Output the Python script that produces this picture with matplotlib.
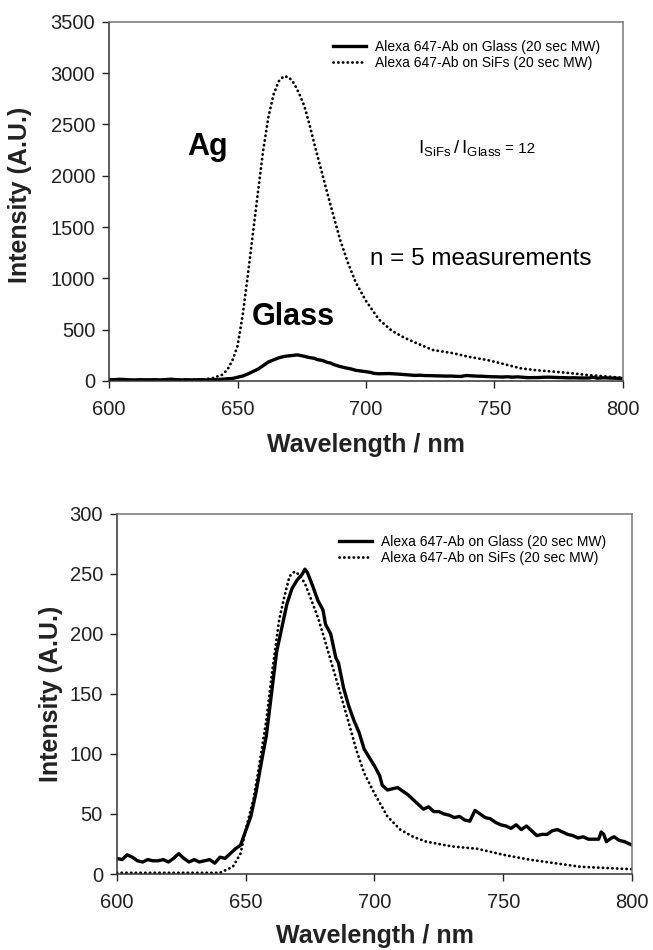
import matplotlib
matplotlib.use("Agg")
import matplotlib.pyplot as plt

plt.rcParams['font.family'] = ['Liberation Sans', 'DejaVu Sans']
plt.rcParams['mathtext.fontset'] = 'custom'
plt.rcParams['mathtext.rm'] = 'Liberation Sans'

LABEL_GLASS = "Alexa 647-Ab on Glass (20 sec MW)"
LABEL_SIFS = "Alexa 647-Ab on SiFs (20 sec MW)"

# glass spectrum (same in both panels)
glass_nm = [600, 602, 604, 606, 608, 610, 612, 614, 616, 618, 620, 622, 624, 626, 628,
            630, 632, 634, 636, 638, 640, 642, 644, 646, 648, 650, 652, 654, 656, 658,
            660, 662, 664, 666, 668, 670, 672, 673, 674, 676, 678, 680, 681, 683, 685,
            686, 688, 690, 692, 694, 696, 698, 700, 702, 703, 705, 707, 709, 711, 713,
            715, 717, 719, 721, 723, 725, 727, 729, 731, 733, 735, 737, 739, 741, 743,
            745, 747, 749, 751, 753, 755, 757, 759, 761, 763, 765, 767, 769, 771, 773,
            775, 777, 779, 781, 783, 785, 787, 788, 789, 790, 792, 793, 795, 797, 800]
glass_int = [13, 12, 16, 14, 11, 10, 12, 11, 11, 12, 10, 13, 17, 13, 10,
             12, 10, 11, 12, 9, 14, 13, 17, 21, 24, 36, 48, 68, 92, 115,
             150, 185, 205, 225, 238, 245, 250, 254, 251, 240, 228, 220, 208, 200, 180,
             176, 155, 140, 128, 118, 104, 97, 90, 82, 74, 70, 71, 72, 69, 66,
             62, 58, 54, 56, 52, 52, 50, 49, 47, 48, 45, 44, 53, 50, 47,
             46, 43, 41, 40, 38, 41, 37, 40, 36, 32, 33, 33, 36, 37, 35,
             33, 32, 30, 31, 29, 29, 29, 35, 33, 27, 30, 31, 28, 27, 24]

# SiFs spectrum, top panel (absolute)
sifs_nm = [600, 610, 620, 630, 636, 640, 644, 646, 648, 650, 652, 654, 656, 658, 660,
           662, 664, 666, 668, 670, 672, 674, 676, 678, 680, 682, 684, 686, 688, 690,
           693, 696, 700, 705, 710, 715, 720, 726, 734, 740, 747, 752, 760, 766, 773,
           780, 786, 792, 800]
sifs_int = [8, 8, 8, 10, 14, 25, 60, 107, 200, 340, 640, 1030, 1440, 1850, 2250,
            2570, 2790, 2920, 2970, 2960, 2900, 2800, 2680, 2500, 2300, 2110, 1920, 1732, 1550, 1370,
            1150, 960, 780, 600, 490, 420, 365, 302, 270, 235, 205, 175, 124, 105, 91,
            75, 58, 47, 30]

# SiFs spectrum, bottom panel (scaled to glass peak)
norm_nm = [600, 610, 620, 630, 635, 640, 645, 648, 650, 653, 655, 658, 660, 663, 665,
           667, 669, 671, 673, 675, 678, 680, 683, 686, 690, 693, 696, 700, 705, 710,
           715, 720, 730, 740, 750, 760, 770, 780, 790, 800]
norm_int = [1, 1, 1, 1, 1, 1, 6, 17, 37, 62, 87, 128, 164, 212, 231,
            248, 252, 249, 242, 231, 214, 200, 178, 156, 126, 103, 84, 67, 48, 37,
            31, 27, 23, 21, 16, 12, 9, 6, 5, 4]

DOT = (0, (0.1, 1.6))


def style_axes(ax, ymax, ystep):
    ax.set_xlim(600, 800)
    ax.set_ylim(0, ymax)
    ax.set_xticks(range(600, 801, 50))
    ax.set_yticks(range(0, ymax + 1, ystep))
    ax.tick_params(direction='out', length=5, width=1, labelsize=14.5, colors='#222')
    ax.tick_params(axis='x', pad=9)
    ax.tick_params(axis='y', pad=5)
    for s in ['left', 'bottom']:
        ax.spines[s].set_color('#333')
        ax.spines[s].set_linewidth(1.1)
    for s in ['top', 'right']:
        ax.spines[s].set_color('#777')
        ax.spines[s].set_linewidth(1.1)
    ax.set_xlabel("Wavelength / nm", fontsize=18, fontweight='bold', color='#222')
    ax.set_ylabel("Intensity (A.U.)", fontsize=18, fontweight='bold', color='#222')


def dotted(ax, x, y, label):
    ax.plot(x, y, color='black', lw=2.0, linestyle=DOT, dash_capstyle='round',
            label=label)


fig = plt.figure(figsize=(6.53, 9.5), dpi=100)

# top panel
ax1 = fig.add_axes([0.167, 0.599, 0.787, 0.378])
ax1.plot(glass_nm, glass_int, color='black', lw=2.4, label=LABEL_GLASS)
dotted(ax1, sifs_nm, sifs_int, LABEL_SIFS)
style_axes(ax1, 3500, 500)
ax1.xaxis.set_label_coords(0.5, -0.145)
ax1.yaxis.set_label_coords(-0.15, 0.518)
ax1.legend(loc='center left', bbox_to_anchor=(0.436, 0.907), frameon=False,
           fontsize=10, labelspacing=0.15, handlelength=2.4, handletextpad=0.6,
           borderpad=0, borderaxespad=0)
ax1.text(630.5, 2203, "Ag", fontsize=22, fontweight='bold', ha='left', va='baseline')
ax1.text(655.6, 546, "Glass", fontsize=22, fontweight='bold', ha='left', va='baseline')
ax1.text(701.6, 1131, "n = 5 measurements", fontsize=17.5, ha='left', va='baseline')
ax1.text(720.2, 2223, r"$\mathregular{I_{SiFs}\,/\,I_{Glass}}$", fontsize=13.5,
         ha='left', va='baseline')
ax1.text(754.1, 2223, "= 12", fontsize=11, ha='left', va='baseline')

# bottom panel
ax2 = fig.add_axes([0.179, 0.080, 0.789, 0.379])
ax2.plot(glass_nm, glass_int, color='black', lw=2.4, label=LABEL_GLASS)
dotted(ax2, norm_nm, norm_int, LABEL_SIFS)
style_axes(ax2, 300, 50)
ax2.xaxis.set_label_coords(0.5, -0.14)
ax2.yaxis.set_label_coords(-0.105, 0.501)
ax2.legend(loc='center left', bbox_to_anchor=(0.431, 0.901), frameon=False,
           fontsize=10, labelspacing=0.15, handlelength=2.4, handletextpad=0.6,
           borderpad=0, borderaxespad=0)

fig.savefig("out.png", dpi=100)
